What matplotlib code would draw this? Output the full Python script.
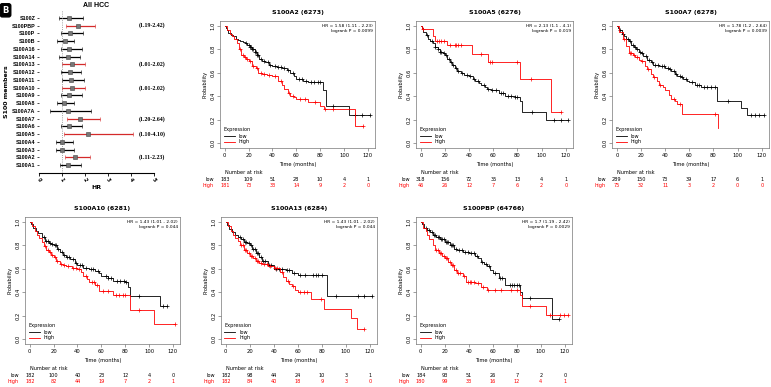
import numpy as np
import matplotlib
matplotlib.use("Agg")
import matplotlib.pyplot as plt
from matplotlib.lines import Line2D

plt.rcParams['font.family'] = ['DejaVu Sans']

# ---- forest plot data (top to bottom) ----
members = ["S100Z", "S100PBP", "S100P", "S100B", "S100A16", "S100A14", "S100A13",
           "S100A12", "S100A11", "S100A10", "S100A9", "S100A8", "S100A7A", "S100A7",
           "S100A6", "S100A5", "S100A4", "S100A3", "S100A2", "S100A1"]
hr = [1.31, 1.70, 1.34, 1.13, 1.31, 1.26, 1.43, 1.33, 1.37, 1.43, 1.31, 1.08, 1.25,
      1.78, 1.31, 2.13, 1.01, 1.02, 1.58, 1.27]
hr_low = [0.88, 1.19, 0.95, 0.77, 0.95, 0.88, 1.01, 0.95, 0.98, 1.01, 0.95, 0.79, 0.48,
          1.20, 0.95, 1.10, 0.72, 0.72, 1.11, 0.91]
hr_high = [1.92, 2.42, 1.92, 1.52, 1.88, 1.78, 2.02, 1.82, 1.97, 2.02, 1.88, 1.52, 2.24,
           2.64, 1.88, 4.10, 1.46, 1.52, 2.23, 1.82]

# ---- Kaplan-Meier panels ----
titles = ["S100A2 (6273)", "S100A5 (6276)", "S100A7 (6278)",
          "S100A10 (6281)", "S100A13 (6284)", "S100PBP (64766)"]
hr_text = ["HR = 1.58 (1.11 - 2.23)\nlogrank P = 0.0099",
           "HR = 2.13 (1.1 - 4.1)\nlogrank P = 0.019",
           "HR = 1.78 (1.2 - 2.64)\nlogrank P = 0.0039",
           "HR = 1.43 (1.01 - 2.02)\nlogrank P = 0.044",
           "HR = 1.43 (1.01 - 2.02)\nlogrank P = 0.044",
           "HR = 1.7 (1.19 - 2.42)\nlogrank P = 0.0029"]
risk_times = [0, 20, 40, 60, 80, 100, 120]
risk_low = [[183, 109, 51, 28, 10, 4, 1],
            [318, 156, 72, 35, 13, 4, 1],
            [289, 150, 73, 39, 17, 6, 1],
            [182, 100, 40, 23, 12, 4, 0],
            [182, 98, 44, 24, 10, 3, 1],
            [184, 93, 51, 26, 7, 2, 0]]
risk_high = [[181, 73, 33, 14, 9, 2, 0],
             [46, 26, 12, 7, 6, 2, 0],
             [75, 32, 11, 3, 2, 0, 0],
             [182, 82, 44, 19, 7, 2, 1],
             [182, 84, 40, 18, 9, 3, 0],
             [180, 99, 33, 16, 12, 4, 1]]

# S100A2
a2_low_t = [0, 1, 2, 3, 5, 7, 9, 11, 13, 15, 17, 19, 21, 23, 25, 27, 29, 31, 34, 37, 40, 44, 48, 52, 55, 58, 60, 66, 70, 82, 85, 104]
a2_low_s = [1.0, 0.98, 0.96, 0.94, 0.92, 0.91, 0.89, 0.88, 0.87, 0.86, 0.85, 0.84, 0.82, 0.80, 0.78, 0.75, 0.72, 0.70, 0.69, 0.67, 0.66, 0.65, 0.64, 0.62, 0.60, 0.57, 0.55, 0.53, 0.52, 0.45, 0.32, 0.24]
a2_low_c = [18, 20, 21, 22, 23, 24, 25, 26, 27, 28, 30, 33, 36, 38, 42, 45, 47, 50, 53, 57, 62, 65, 68, 72, 75, 78, 80, 91, 109, 115, 122]
a2_high_t = [0, 2, 4, 6, 8, 10, 12, 14, 16, 18, 20, 23, 26, 28, 31, 35, 40, 45, 48, 50, 53, 55, 58, 60, 70, 80, 83, 109]
a2_high_s = [1.0, 0.96, 0.93, 0.91, 0.89, 0.85, 0.80, 0.75, 0.73, 0.72, 0.70, 0.66, 0.64, 0.60, 0.59, 0.58, 0.57, 0.53, 0.50, 0.46, 0.43, 0.405, 0.39, 0.38, 0.35, 0.32, 0.29, 0.15]
a2_high_c = [13, 15, 17, 19, 21, 24, 27, 30, 33, 37, 42, 47, 54, 57, 63, 67, 76, 84, 91, 116]

# S100A5
a5_low_t = [0, 1, 2, 4, 6, 8, 10, 12, 14, 16, 18, 20, 22, 24, 26, 28, 30, 33, 36, 40, 43, 45, 48, 50, 53, 55, 58, 60, 65, 70, 78, 82, 84, 104]
a5_low_s = [1.0, 0.98, 0.95, 0.92, 0.89, 0.87, 0.85, 0.82, 0.80, 0.78, 0.77, 0.75, 0.72, 0.69, 0.67, 0.64, 0.615, 0.60, 0.58, 0.57, 0.55, 0.53, 0.51, 0.50, 0.48, 0.46, 0.455, 0.45, 0.43, 0.405, 0.39, 0.36, 0.27, 0.20]
a5_low_c = [5, 9, 12, 14, 16, 17, 19, 21, 23, 25, 27, 29, 31, 34, 38, 41, 44, 47, 52, 56, 59, 62, 66, 68, 72, 75, 78, 80, 92, 110, 116, 122]
a5_high_t = [0, 1, 10, 12, 22, 42, 56, 82, 108]
a5_high_s = [1.0, 0.97, 0.91, 0.87, 0.84, 0.76, 0.69, 0.55, 0.27]
a5_high_c = [2, 13, 15, 17, 19, 24, 28, 29, 31, 33, 50, 57, 59, 80, 91, 116]

# S100A7
a7_low_t = [0, 1, 2, 4, 6, 8, 10, 12, 14, 16, 18, 20, 22, 25, 28, 30, 35, 40, 43, 45, 48, 50, 53, 55, 58, 60, 65, 70, 80, 83, 103, 108]
a7_low_s = [1.0, 0.98, 0.96, 0.93, 0.91, 0.89, 0.87, 0.84, 0.82, 0.80, 0.78, 0.77, 0.74, 0.71, 0.69, 0.67, 0.655, 0.64, 0.63, 0.615, 0.59, 0.57, 0.56, 0.545, 0.53, 0.52, 0.50, 0.48, 0.475, 0.36, 0.30, 0.24]
a7_low_c = [3, 5, 9, 11, 13, 15, 17, 19, 21, 24, 27, 29, 32, 34, 37, 39, 42, 44, 47, 49, 52, 54, 57, 62, 66, 68, 72, 75, 78, 81, 92, 111, 114, 118, 122]
a7_high_t = [0, 2, 5, 8, 10, 13, 15, 18, 20, 23, 25, 28, 30, 33, 35, 38, 40, 43, 45, 48, 50, 54, 84]
a7_high_s = [1.0, 0.95, 0.89, 0.83, 0.77, 0.75, 0.73, 0.71, 0.70, 0.66, 0.63, 0.59, 0.56, 0.53, 0.50, 0.48, 0.45, 0.41, 0.38, 0.36, 0.335, 0.25, 0.13]
a7_high_c = [6, 11, 12, 14, 17, 21, 26, 31, 36, 47, 52, 81]

# S100A10
a10_low_t = [0, 1, 3, 5, 7, 10, 13, 16, 18, 20, 23, 25, 28, 30, 34, 38, 40, 45, 50, 55, 58, 60, 66, 70, 80, 82, 84, 109]
a10_low_s = [1.0, 0.98, 0.95, 0.92, 0.90, 0.87, 0.84, 0.82, 0.81, 0.80, 0.77, 0.74, 0.72, 0.70, 0.68, 0.65, 0.63, 0.61, 0.60, 0.585, 0.56, 0.54, 0.52, 0.50, 0.49, 0.445, 0.37, 0.28]
a10_low_c = [12, 14, 15, 17, 19, 21, 22, 24, 27, 29, 31, 33, 36, 39, 42, 44, 47, 51, 53, 57, 64, 66, 68, 73, 76, 79, 81, 92, 112, 115]
a10_high_t = [0, 2, 4, 6, 8, 10, 12, 14, 16, 18, 20, 22, 25, 28, 30, 35, 40, 43, 45, 48, 50, 55, 58, 70, 84, 104]
a10_high_s = [1.0, 0.96, 0.92, 0.89, 0.86, 0.825, 0.79, 0.76, 0.74, 0.72, 0.70, 0.67, 0.64, 0.63, 0.62, 0.61, 0.595, 0.57, 0.54, 0.51, 0.49, 0.46, 0.41, 0.38, 0.25, 0.13]
a10_high_c = [13, 15, 17, 19, 21, 23, 26, 29, 32, 36, 39, 41, 47, 52, 54, 56, 61, 66, 72, 75, 78, 80, 92, 122]

# S100A13
a13_low_t = [0, 1, 3, 5, 8, 10, 13, 15, 18, 20, 22, 25, 28, 30, 35, 40, 45, 50, 55, 60, 84]
a13_low_s = [1.0, 0.97, 0.94, 0.91, 0.89, 0.87, 0.85, 0.83, 0.815, 0.80, 0.77, 0.73, 0.70, 0.67, 0.63, 0.60, 0.595, 0.59, 0.56, 0.545, 0.37]
a13_low_c = [12, 14, 16, 17, 19, 21, 23, 24, 26, 27, 29, 31, 33, 36, 38, 42, 44, 47, 51, 53, 57, 62, 66, 73, 75, 77, 80, 92, 110, 115, 122]
a13_high_t = [0, 2, 4, 6, 8, 10, 12, 15, 18, 20, 23, 25, 28, 30, 35, 40, 45, 48, 50, 53, 55, 58, 60, 71, 82, 104, 109]
a13_high_s = [1.0, 0.96, 0.92, 0.89, 0.86, 0.84, 0.80, 0.76, 0.73, 0.71, 0.69, 0.67, 0.65, 0.64, 0.625, 0.61, 0.57, 0.53, 0.50, 0.47, 0.45, 0.42, 0.40, 0.345, 0.26, 0.18, 0.09]
a13_high_c = [13, 14, 16, 17, 19, 21, 22, 24, 26, 27, 29, 32, 34, 37, 41, 43, 47, 52, 56, 62, 65, 68, 79, 115]

# S100PBP
pbp_low_t = [0, 1, 3, 5, 8, 10, 13, 16, 20, 24, 28, 30, 35, 40, 45, 48, 50, 53, 55, 58, 60, 65, 70, 83, 84, 109]
pbp_low_s = [1.0, 0.98, 0.95, 0.93, 0.91, 0.89, 0.87, 0.85, 0.83, 0.80, 0.77, 0.76, 0.74, 0.73, 0.71, 0.69, 0.66, 0.64, 0.62, 0.59, 0.565, 0.525, 0.46, 0.40, 0.35, 0.175]
pbp_low_c = [4, 7, 9, 11, 12, 14, 15, 17, 18, 19, 21, 22, 23, 25, 26, 27, 29, 32, 34, 37, 39, 42, 44, 47, 51, 54, 57, 62, 66, 68, 74, 76, 78, 80, 82, 91, 115]
pbp_high_t = [0, 2, 4, 5, 7, 10, 12, 15, 18, 20, 23, 25, 28, 30, 35, 38, 45, 50, 55, 83, 84, 104]
pbp_high_s = [1.0, 0.95, 0.92, 0.89, 0.85, 0.80, 0.76, 0.73, 0.71, 0.69, 0.66, 0.63, 0.59, 0.56, 0.54, 0.49, 0.475, 0.445, 0.42, 0.375, 0.28, 0.21]
pbp_high_c = [13, 14, 16, 17, 19, 21, 22, 24, 26, 27, 29, 31, 33, 36, 39, 41, 42, 44, 48, 52, 56, 62, 67, 75, 80, 91, 108, 116, 119, 123]

curves = [
    (a2_low_t, a2_low_s, a2_low_c, a2_high_t, a2_high_s, a2_high_c),
    (a5_low_t, a5_low_s, a5_low_c, a5_high_t, a5_high_s, a5_high_c),
    (a7_low_t, a7_low_s, a7_low_c, a7_high_t, a7_high_s, a7_high_c),
    (a10_low_t, a10_low_s, a10_low_c, a10_high_t, a10_high_s, a10_high_c),
    (a13_low_t, a13_low_s, a13_low_c, a13_high_t, a13_high_s, a13_high_c),
    (pbp_low_t, pbp_low_s, pbp_low_c, pbp_high_t, pbp_high_s, pbp_high_c),
]

# axes boxes in pixels: (left, top, right, bottom)
W, H = 771, 387
boxes = [(220, 21, 375, 148), (416, 21, 573, 148), (612, 21, 769, 148),
         (25, 217, 180, 344), (221, 217, 377, 344), (416, 217, 572, 344)]

RED = "#ff0000"

fig = plt.figure(figsize=(W / 100, H / 100), dpi=100)


def px_axes(l, t, r, b):
    return fig.add_axes([l / W, 1 - b / H, (r - l) / W, (b - t) / H])


def draw_km(ax, t, s, c, color):
    t = list(t)
    s = list(s)
    end = max(max(c), t[-1])
    ax.step(t + [end], s + [s[-1]], where="post", color=color, lw=0.6)
    idx = np.searchsorted(t, c, side="right") - 1
    ax.plot(c, np.array(s)[idx], "+", color=color, ms=2.5, mew=0.5)


# ---- forest plot ----
axf = px_axes(39, 10, 154, 173)
ypos = np.arange(len(members))[::-1]
for y, m, h, lo, hi in zip(ypos, members, hr, hr_low, hr_high):
    col = "#d42a2a" if lo > 1 else "black"
    axf.errorbar(h, y, xerr=[[h - lo], [hi - h]], fmt="s", color=col, ecolor=col,
                 elinewidth=0.9, capsize=1.5, capthick=0.8, ms=2.5,
                 mfc="#777777", mec="#444444", mew=0.4)
    if lo > 1:
        axf.text(4.35, y, "(%.2f-%.2f)" % (lo, hi), fontsize=4.2, fontweight="bold",
                 family="Liberation Serif", va="center", ha="left", clip_on=False)
axf.axvline(1, color="gray", ls=":", lw=0.6)
axf.set_xlim(0, 5)
axf.set_ylim(-1.0, 20.0)
axf.set_yticks(ypos)
axf.set_yticklabels(members, fontsize=3.9, fontweight="bold", family="Liberation Sans")
axf.set_xticks(range(6))
axf.set_xticklabels([str(v) for v in range(6)], fontsize=3.5, fontweight="bold", rotation=-60)
axf.tick_params(axis="y", length=1.5, width=0.5, pad=1)
axf.tick_params(axis="x", length=2, width=0.6, pad=1)
for sp in ["top", "right", "left"]:
    axf.spines[sp].set_visible(False)
axf.spines["bottom"].set_linewidth(0.8)
axf.set_xlabel("HR", fontsize=4.5, fontweight="bold", labelpad=2)
axf.set_ylabel("S100 members", fontsize=4.5, fontweight="bold", labelpad=2)
axf.set_title("All HCC", fontsize=5, fontweight="bold", pad=2, family="Liberation Sans")

fig.text(0.003, 0.985, "B", color="white", fontsize=6, fontweight="bold", va="top", ha="left",
         bbox=dict(boxstyle="round,pad=0.25", fc="black", ec="black"))

# ---- KM panels ----
for i, box in enumerate(boxes):
    ax = px_axes(*box)
    lt, ls, lc, ht, hs, hc = curves[i]
    draw_km(ax, lt, ls, lc, "black")
    draw_km(ax, ht, hs, hc, RED)
    ax.set_xlim(-4, 126)
    ax.set_ylim(-0.04, 1.04)
    ax.set_xticks(risk_times)
    ax.set_yticks([0, 0.2, 0.4, 0.6, 0.8, 1.0])
    ax.set_yticklabels(["0.0", "0.2", "0.4", "0.6", "0.8", "1.0"], rotation=90, va="center")
    ax.tick_params(labelsize=3.8, length=2, width=0.4, pad=1.5, color="#555555")
    for sp in ax.spines.values():
        sp.set_linewidth(0.5)
        sp.set_color("#777777")
    ax.set_title(titles[i], fontsize=4.5, fontweight="bold", pad=5)
    ax.set_xlabel("Time (months)", fontsize=3.7, labelpad=3)
    ax.set_ylabel("Probability", fontsize=3.7, labelpad=2)
    ax.text(0.985, 0.975, hr_text[i], transform=ax.transAxes, ha="right", va="top",
            fontsize=3.2, linespacing=1.2)
    handles = [Line2D([], [], color="black", lw=0.6), Line2D([], [], color=RED, lw=0.6)]
    leg = ax.legend(handles, ["low", "high"], title="Expression", loc="lower left",
                    frameon=False, fontsize=3.6, title_fontsize=3.6, handlelength=2.2,
                    borderaxespad=0.3, labelspacing=0.2, handletextpad=0.8)
    leg._legend_box.align = "left"
    trans = ax.get_xaxis_transform()
    ax.text(16, -0.195, "Number at risk", transform=trans, ha="center", va="center",
            fontsize=3.6, clip_on=False)
    ax.text(-9, -0.245, "low", transform=trans, ha="right", va="center", fontsize=3.6)
    ax.text(-9, -0.295, "high", transform=trans, ha="right", va="center", fontsize=3.6,
            color=RED)
    for tt, nl, nh in zip(risk_times, risk_low[i], risk_high[i]):
        ax.text(tt, -0.245, str(nl), transform=trans, ha="center", va="center", fontsize=3.6)
        ax.text(tt, -0.295, str(nh), transform=trans, ha="center", va="center", fontsize=3.6,
                color=RED)

fig.savefig("out.png", dpi=100)
